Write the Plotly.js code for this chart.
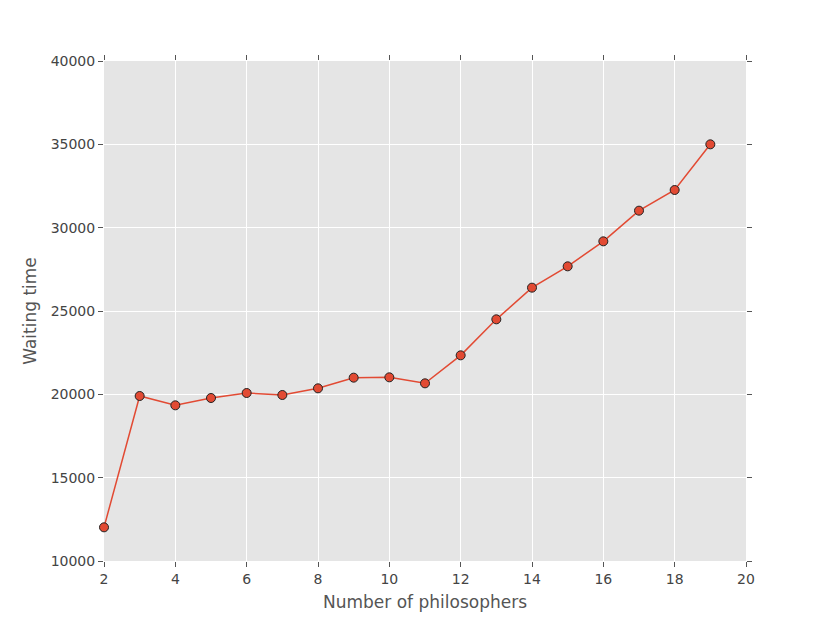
<!DOCTYPE html>
<html><head><meta charset="utf-8">
<script src="https://cdn.plot.ly/plotly-3.0.1.min.js"></script>
<style>body{margin:0;background:#fff}</style>
</head><body><div id="chart" style="width:830px;height:623px"></div>
<script>
const philosophers = [2,3,4,5,6,7,8,9,10,11,12,13,14,15,16,17,18,19];
const waitingTime = [12020,19900,19340,19780,20080,19960,20360,21000,21020,20660,22340,24500,26400,27680,29180,31020,32260,35000];
const xTicks = [2,4,6,8,10,12,14,16,18,20];
const yTicks = [10000,15000,20000,25000,30000,35000,40000];

const trace = {
  x: philosophers, y: waitingTime, mode: 'lines+markers', type: 'scatter',
  line: {color: '#E24A33', width: 1.5},
  marker: {color: '#E24A33', size: 9, line: {color: '#222222', width: 1}},
  cliponaxis: false, hoverinfo: 'none'
};
const axisCommon = {
  showgrid: true, gridcolor: '#ffffff', gridwidth: 1, zeroline: false,
  showline: false, ticks: 'outside', ticklen: 5, tickcolor: '#555555', tickwidth: 1,
  mirror: 'ticks', tickfont: {family: 'DejaVu Sans', size: 14, color: '#444444'}
};
const layout = {
  width: 830, height: 623,
  margin: {l: 104, r: 84, t: 61, b: 62},
  paper_bgcolor: '#ffffff', plot_bgcolor: '#E5E5E5',
  showlegend: false,
  xaxis: Object.assign({}, axisCommon, {
    range: [2, 20], tickvals: xTicks, ticktext: xTicks.map(String),
    title: {text: 'Number of philosophers', font: {family: 'DejaVu Sans', size: 17, color: '#555555'}, standoff: 10}
  }),
  yaxis: Object.assign({}, axisCommon, {
    range: [10000, 40000], tickvals: yTicks, ticktext: yTicks.map(String),
    title: {text: 'Waiting time', font: {family: 'DejaVu Sans', size: 17, color: '#555555'}, standoff: 9}
  })
};
Plotly.newPlot('chart', [trace], layout, {staticPlot: true});
</script></body></html>
